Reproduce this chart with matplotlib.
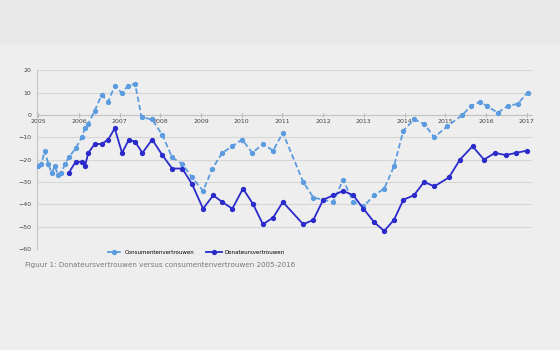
import matplotlib
matplotlib.use("Agg")
import matplotlib.pyplot as plt
from matplotlib.patches import Rectangle

# Consumentenvertrouwen (decimal year, value)
cons_x = [2005.00, 2005.08, 2005.16, 2005.25, 2005.33, 2005.41, 2005.49, 2005.57,
          2005.66, 2005.75, 2005.92, 2006.07, 2006.15, 2006.23, 2006.39, 2006.56,
          2006.72, 2006.88, 2007.05, 2007.21, 2007.38, 2007.54, 2007.80, 2008.05,
          2008.29, 2008.54, 2008.78, 2009.05, 2009.28, 2009.52, 2009.77, 2010.01,
          2010.26, 2010.52, 2010.77, 2011.01, 2011.51, 2011.76, 2012.00, 2012.25,
          2012.49, 2012.74, 2012.99, 2013.25, 2013.50, 2013.74, 2013.97, 2014.23,
          2014.48, 2014.73, 2015.05, 2015.42, 2015.63, 2015.86, 2016.02, 2016.29,
          2016.53, 2016.78, 2017.02]
cons_y = [-23, -22, -16, -22, -26, -23, -27, -26,
          -22, -19, -15, -10, -6, -4, 2, 9,
          6, 13, 10, 13, 14, -1, -2, -9,
          -19, -22, -28, -34, -24, -17, -14, -11,
          -17, -13, -16, -8, -30, -37, -38, -39,
          -29, -39, -41, -36, -33, -23, -7, -2,
          -4, -10, -5, 0, 4, 6, 4, 1,
          4, 5, 10]

# Donateursvertrouwen
don_x = [2005.75, 2005.92, 2006.07, 2006.15, 2006.23, 2006.39, 2006.56, 2006.72,
         2006.88, 2007.06, 2007.23, 2007.38, 2007.56, 2007.80, 2008.05, 2008.29,
         2008.54, 2008.78, 2009.05, 2009.30, 2009.52, 2009.77, 2010.03, 2010.28,
         2010.52, 2010.77, 2011.01, 2011.51, 2011.76, 2012.00, 2012.25, 2012.49,
         2012.74, 2012.99, 2013.25, 2013.50, 2013.74, 2013.97, 2014.23, 2014.48,
         2014.73, 2015.09, 2015.36, 2015.67, 2015.95, 2016.22, 2016.49, 2016.73,
         2017.01]
don_y = [-26, -21, -21, -23, -17, -13, -13, -11,
         -6, -17, -11, -12, -17, -11, -18, -24,
         -24, -31, -42, -36, -39, -42, -33, -40,
         -49, -46, -39, -49, -47, -38, -36, -34,
         -36, -42, -48, -52, -47, -38, -36, -30,
         -32, -28, -20, -14, -20, -17, -18, -17,
         -16]

years = list(range(2005, 2018))
yticks = list(range(-60, 21, 10))

fig = plt.figure(figsize=(5.6, 3.5), dpi=100, facecolor="#eeeeee")
# darker band at the top of the page
fig.patches.append(Rectangle((0, 0.877), 1, 0.123, transform=fig.transFigure,
                             color="#e9e9e9", zorder=0))

ax = fig.add_axes([0.066, 0.289, 0.884, 0.510])
ax.set_facecolor("none")

ax.plot(cons_x, cons_y, color="#5b9be0", lw=1.3, ls=(0, (3, 1.6)),
        marker="o", ms=2.8, label="Consumentenvertrouwen", zorder=3)
ax.plot(don_x, don_y, color="#2b2bcc", lw=1.3,
        marker="o", ms=2.8, label="Donateursvertrouwen", zorder=3)

ax.set_xlim(2004.97, 2017.13)
ax.set_ylim(-60, 20)
ax.set_yticks(yticks)
ax.set_xticks(years)
ax.grid(axis="y", color="#d6d6d6", lw=0.8)
ax.set_axisbelow(True)

for side in ["top", "right"]:
    ax.spines[side].set_visible(False)
ax.spines["bottom"].set_position(("data", 0))
ax.spines["bottom"].set_color("#c4c4c4")
ax.spines["left"].set_color("#c4c4c4")

ax.tick_params(axis="y", length=0, labelsize=4.5, labelcolor="#444444", pad=4)
ax.tick_params(axis="x", length=2.5, direction="inout", color="#b0b0b0",
               labelsize=4.5, labelcolor="#444444", pad=2)

ax.legend(loc="center", bbox_to_anchor=(0.32, -0.02), ncol=2, frameon=False,
          fontsize=4, handlelength=2.8, columnspacing=2.2, handletextpad=0.4)

fig.text(0.045, 0.243, "Figuur 1: Donateursvertrouwen versus consumentenvertrouwen 2005-2016",
         fontsize=5.1, color="#777777", va="center")

fig.savefig("out.png", dpi=100, facecolor=fig.get_facecolor())
